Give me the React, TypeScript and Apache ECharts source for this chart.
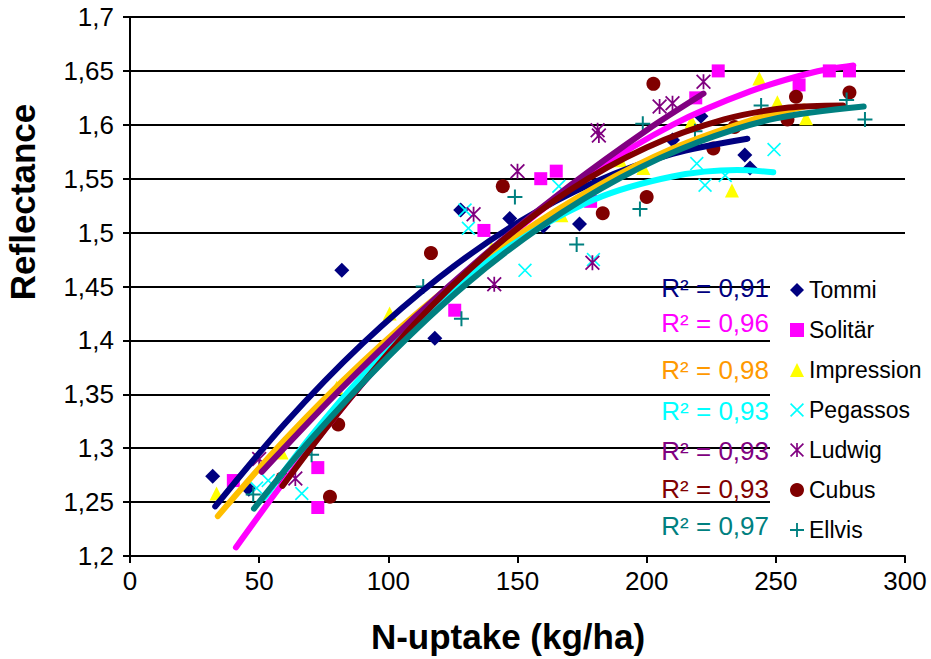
import React, { useEffect, useRef } from "react";
import * as echarts from "echarts";

// Varieties, in legend order
const varieties = ["Tommi", "Solitär", "Impression", "Pegassos", "Ludwig", "Cubus", "Ellvis"];
const r2Labels = ["R² = 0,91", "R² = 0,96", "R² = 0,98", "R² = 0,93", "R² = 0,93", "R² = 0,93", "R² = 0,97"];

// Measured points: [N-uptake kg/ha, reflectance]
const tommiPoints = [
  [32, 1.274], [46, 1.262], [82, 1.465], [118, 1.402], [128, 1.521], [147, 1.513],
  [160, 1.506], [174, 1.508], [210, 1.586], [221, 1.608], [238, 1.572], [240, 1.56],
];
const solitarPoints = [
  [40, 1.27], [72.7, 1.282], [72.7, 1.245], [125.7, 1.428], [137, 1.502], [159, 1.55],
  [165, 1.557], [178.3, 1.529], [219, 1.625], [227.7, 1.65], [259, 1.637], [270.7, 1.65], [278.5, 1.65],
];
const impressionPoints = [
  [33.5, 1.258], [58.7, 1.296], [80, 1.356], [100.5, 1.425], [140, 1.485], [167, 1.516],
  [189.7, 1.567], [198.7, 1.56], [217.4, 1.603], [233, 1.539], [243.6, 1.643], [250.6, 1.621], [261.7, 1.606],
];
const pegassosPoints = [
  [49, 1.263], [53.5, 1.27], [66.5, 1.258], [129.7, 1.521], [131, 1.504], [152.9, 1.465],
  [166, 1.543], [179.4, 1.475], [219.4, 1.564], [222.6, 1.544], [230.4, 1.553], [249.3, 1.577],
];
const ludwigPoints = [
  [50, 1.29], [64, 1.272], [133, 1.517], [141, 1.452], [150, 1.557], [179, 1.472],
  [181, 1.595], [181.5, 1.59], [205, 1.617], [210, 1.62], [222, 1.64],
];
const cubusPoints = [
  [59, 1.272], [77.4, 1.255], [80.6, 1.322], [116.5, 1.481], [144.3, 1.543], [183, 1.518],
  [200, 1.533], [202.6, 1.638], [225.8, 1.578], [234, 1.598], [254.5, 1.605], [257.8, 1.626], [278.5, 1.63],
];
const ellvisPoints = [
  [47.7, 1.257], [70.3, 1.294], [113.5, 1.45], [128.3, 1.42], [149, 1.533], [172.9, 1.489],
  [197.4, 1.522], [198.5, 1.601], [218.7, 1.594], [244.3, 1.618], [277.4, 1.623], [284.5, 1.605],
];

// Trendlines
const tommiTrend = [[33, 1.246], [60, 1.323], [90, 1.397], [120, 1.459], [150, 1.509], [180, 1.547], [210, 1.573], [239, 1.587]];
const solitarTrend = [[41, 1.208], [60, 1.27], [90, 1.36], [120, 1.437], [150, 1.503], [180, 1.557], [210, 1.6], [240, 1.631], [265, 1.649], [280, 1.655]];
const impressionTrend = [[34, 1.237], [60, 1.308], [90, 1.38], [120, 1.443], [150, 1.497], [180, 1.542], [210, 1.578], [240, 1.604], [261, 1.617]];
const pegassosTrend = [[52, 1.254], [70, 1.311], [90, 1.367], [120, 1.438], [150, 1.492], [180, 1.531], [210, 1.552], [235, 1.558], [249, 1.556]];
const ludwigTrend = [[51, 1.278], [80, 1.351], [110, 1.421], [140, 1.485], [170, 1.543], [200, 1.595], [222, 1.629]];
const cubusTrend = [[59, 1.265], [80, 1.331], [110, 1.415], [140, 1.484], [170, 1.539], [200, 1.579], [230, 1.605], [255, 1.616], [276, 1.618]];
const ellvisTrend = [[48, 1.244], [70, 1.308], [100, 1.385], [130, 1.452], [160, 1.507], [190, 1.551], [220, 1.584], [250, 1.606], [284, 1.617]];

const pointSets = [tommiPoints, solitarPoints, impressionPoints, pegassosPoints, ludwigPoints, cubusPoints, ellvisPoints];
const trendSets = [tommiTrend, solitarTrend, impressionTrend, pegassosTrend, ludwigTrend, cubusTrend, ellvisTrend];

const markerColors = ["#000080", "#FF00FF", "#FFFF00", "#00FFFF", "#800080", "#800000", "#008080"];
const lineColors = ["#000080", "#FF00FF", "#FFBF00", "#00FFFF", "#800080", "#800000", "#008080"];
const r2Colors = ["#000080", "#FF00FF", "#FF9900", "#00FFFF", "#800080", "#800000", "#008080"];

const X_PATH = "path://M0,1L1,0L12,11L11,12Z M11,0L12,1L1,12L0,11Z";
const STAR_PATH = "path://M0,1L1,0L12,11L11,12Z M11,0L12,1L1,12L0,11Z M5.3,0L6.7,0L6.7,12L5.3,12Z";
const PLUS_PATH = "path://M5.2,0H6.8V5.2H12V6.8H6.8V12H5.2V6.8H0V5.2H5.2Z";
const symbols = ["diamond", "rect", "triangle", X_PATH, STAR_PATH, "circle", PLUS_PATH];
const symbolSizes = [15, 13, 14, 14, 15, 14, 15];

const r2Y = [288, 323, 370, 411, 451, 489, 526];

const FONT = "'Liberation Sans', Arial, sans-serif";

export default function App() {
  const ref = useRef<HTMLDivElement>(null);
  useEffect(() => {
    if (!ref.current) return;
    const chart = echarts.init(ref.current, null, { renderer: "svg" });
    const series: any[] = [];
    varieties.forEach((name, i) => {
      series.push({
        name,
        type: "scatter",
        data: pointSets[i],
        symbol: symbols[i],
        symbolSize: symbolSizes[i],
        itemStyle: { color: markerColors[i], opacity: 1 },
        z: 2,
        silent: true,
      });
    });
    varieties.forEach((name, i) => {
      series.push({
        name: name + " trend",
        type: "line",
        data: trendSets[i],
        smooth: 0.3,
        showSymbol: false,
        symbol: "none",
        lineStyle: { color: lineColors[i], width: 6, cap: "round" },
        z: 3,
        silent: true,
      });
    });
    const graphics: any[] = r2Labels.map((t, i) => ({
      type: "text",
      x: 769,
      y: r2Y[i],
      z: 100,
      style: {
        text: t,
        fill: r2Colors[i],
        font: `26px ${FONT}`,
        align: "right",
        verticalAlign: "middle",
      },
    }));
    graphics.push({
      type: "text",
      x: 508,
      y: 636,
      z: 100,
      style: {
        text: "N-uptake (kg/ha)",
        fill: "#000",
        font: `bold 35px ${FONT}`,
        align: "center",
        verticalAlign: "middle",
      },
    });
    graphics.push({
      type: "text",
      x: 22,
      y: 202,
      rotation: Math.PI / 2,
      z: 100,
      style: {
        text: "Reflectance",
        fill: "#000",
        font: `bold 35px ${FONT}`,
        align: "center",
        verticalAlign: "middle",
      },
    });
    chart.setOption({
      animation: false,
      backgroundColor: "#fff",
      grid: { left: 130, right: 26, top: 17, bottom: 103, show: false },
      xAxis: {
        type: "value",
        min: 0,
        max: 300,
        interval: 50,
        axisLine: { show: true, onZero: false, lineStyle: { color: "#000", width: 2 } },
        axisTick: { show: true, inside: false, length: 7, lineStyle: { color: "#000", width: 2 } },
        axisLabel: { color: "#000", fontSize: 26, fontFamily: FONT, margin: 12 },
        splitLine: { show: false },
      },
      yAxis: {
        type: "value",
        min: 1.2,
        max: 1.7,
        interval: 0.05,
        axisLine: { show: true, lineStyle: { color: "#000", width: 2 } },
        axisTick: { show: true, inside: false, length: 7, lineStyle: { color: "#000", width: 2 } },
        axisLabel: {
          color: "#000",
          fontSize: 26,
          fontFamily: FONT,
          margin: 16,
          formatter: (v: number) => String(+v.toFixed(2)).replace(".", ","),
        },
        splitLine: { show: true, lineStyle: { color: "#000", width: 2 } },
      },
      legend: {
        data: varieties,
        orient: "vertical",
        left: 770,
        top: 268,
        padding: [10, 10, 10, 20],
        itemGap: 16,
        itemWidth: 14,
        itemHeight: 14,
        selectedMode: false,
        backgroundColor: "#fff",
        textStyle: { color: "#000", fontSize: 23, fontFamily: FONT, lineHeight: 24 },
      },
      graphic: graphics,
      series,
    });
    return () => chart.dispose();
  }, []);
  return (
    <div
      ref={ref}
      style={{ position: "fixed", left: 0, top: 0, width: 931, height: 659 }}
    />
  );
}
